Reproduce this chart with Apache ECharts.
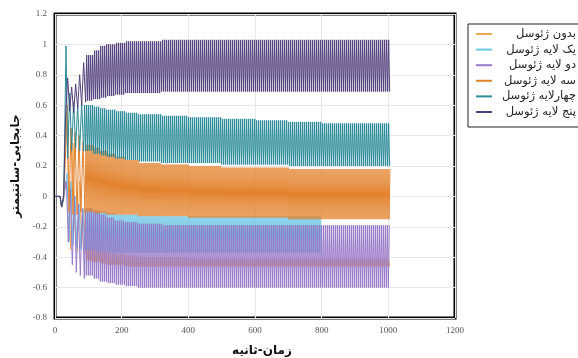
<!DOCTYPE html>
<html>
<head>
<meta charset="utf-8">
<script src="https://cdn.jsdelivr.net/npm/echarts@6/dist/echarts.min.js"></script>
<style>
  html, body { margin: 0; padding: 0; background: #fff; }
  #chart { width: 578px; height: 358px; }
</style>
</head>
<body>
<div id="chart"></div>
<script>
// legend order
const seriesNames = ['بدون ژئوسل', 'یک لایه ژئوسل', 'دو لایه ژئوسل', 'سه لایه ژئوسل', 'چهارلایه ژئوسل', 'پنج لایه ژئوسل'];
const seriesColors = ['#f2a550', '#6cc4e4', '#9878c8', '#e3822c', '#2a8b99', '#53407e'];

// time (s) where each envelope level starts; a level holds until the next one
const segmentStarts = [95, 115, 135, 155, 180, 210, 250, 320, 400, 500, 600, 700, 800];
const endTimes = [1005, 800, 1005, 1005, 1005, 1005];
const halfPeriod = 3; // seconds between a peak and the next trough

// start-up part, read point by point [t, displacement]
const startNone  = [[0, 0], [15, 0], [20, -0.07], [26, 0], [34, 0.55], [40, 0.1], [47, -0.35], [54, 0.35], [60, -0.2], [67, -0.36], [74, 0.1], [80, -0.33], [86, -0.1], [92, -0.38]];
const startOne   = [[0, 0], [15, 0], [20, -0.07], [26, 0], [36, 0.15], [42, -0.3], [48, 0.1], [54, -0.32], [60, 0.0], [66, -0.34], [72, -0.05], [78, -0.35], [84, -0.08], [90, -0.36]];
const startTwo   = [[0, 0], [15, 0], [20, -0.07], [26, 0], [34, 0.1], [40, -0.3], [46, 0.05], [52, -0.45], [58, 0.0], [64, -0.5], [70, -0.05], [76, -0.52], [82, -0.08], [88, -0.54]];
const startThree = [[0, 0], [15, 0], [20, -0.07], [26, 0], [32, 0.3], [37, 0.6], [42, -0.1], [48, 0.45], [54, -0.12], [60, 0.42], [66, -0.12], [72, 0.4], [78, -0.1], [84, 0.36], [90, -0.11]];
const startFour  = [[0, 0], [15, 0], [20, -0.07], [26, -0.02], [33, 0.99], [38, 0.25], [44, 0.68], [50, 0.3], [56, 0.62], [62, 0.32], [68, 0.6], [74, 0.3], [80, 0.62], [86, 0.3]];
const startFive  = [[0, 0], [15, 0], [20, -0.07], [26, 0.01], [32, 0.55], [38, 0.78], [44, 0.56], [50, 0.72], [56, 0.55], [62, 0.74], [68, 0.58], [74, 0.8], [80, 0.6], [86, 0.88], [92, 0.62]];

// peak / trough levels per segment
const peaksNone    = [-0.30, -0.33, -0.35, -0.37, -0.38, -0.39, -0.40, -0.40, -0.41, -0.41, -0.41, -0.41, -0.41];
const troughsNone  = [-0.42, -0.43, -0.44, -0.45, -0.45, -0.46, -0.46, -0.46, -0.46, -0.46, -0.46, -0.46, -0.46];
const peaksOne     = [-0.08, -0.09, -0.10, -0.11, -0.12, -0.12, -0.13, -0.13, -0.13, -0.13, -0.13, -0.13, -0.13];
const troughsOne   = [-0.35, -0.36, -0.36, -0.37, -0.37, -0.37, -0.37, -0.37, -0.37, -0.37, -0.37, -0.37, -0.37];
const peaksTwo     = [-0.08, -0.10, -0.12, -0.14, -0.16, -0.17, -0.18, -0.19, -0.19, -0.19, -0.19, -0.19, -0.19];
const troughsTwo   = [-0.52, -0.54, -0.56, -0.57, -0.58, -0.59, -0.60, -0.60, -0.60, -0.60, -0.60, -0.60, -0.60];
const peaksThree   = [0.34, 0.32, 0.30, 0.28, 0.26, 0.24, 0.22, 0.21, 0.20, 0.19, 0.19, 0.18, 0.18];
const troughsThree = [-0.10, -0.11, -0.11, -0.12, -0.12, -0.12, -0.13, -0.13, -0.14, -0.14, -0.14, -0.15, -0.15];
const peaksFour    = [0.60, 0.59, 0.58, 0.57, 0.56, 0.55, 0.54, 0.53, 0.52, 0.51, 0.50, 0.49, 0.48];
const troughsFour  = [0.30, 0.28, 0.27, 0.26, 0.25, 0.24, 0.23, 0.22, 0.22, 0.21, 0.21, 0.20, 0.20];
const peaksFive    = [0.93, 0.96, 0.99, 1.00, 1.01, 1.02, 1.02, 1.03, 1.03, 1.03, 1.03, 1.03, 1.03];
const troughsFive  = [0.63, 0.64, 0.65, 0.66, 0.67, 0.68, 0.68, 0.69, 0.69, 0.69, 0.69, 0.69, 0.69];

const starts  = [startNone, startOne, startTwo, startThree, startFour, startFive];
const peaks   = [peaksNone, peaksOne, peaksTwo, peaksThree, peaksFour, peaksFive];
const troughs = [troughsNone, troughsOne, troughsTwo, troughsThree, troughsFour, troughsFive];

// legend rows
const legendX = 576;
const legendTop = 24;
const legendRowH = 12;
const legendGap = 3.6;

function buildData(start, pk, tr, end) {
  const pts = start.slice();
  const last = start[start.length - 1];
  let t = last[0] + halfPeriod;
  let up = last[1] < (pk[0] + tr[0]) / 2;
  while (t <= end) {
    let seg = 0;
    while (seg + 1 < segmentStarts.length && t >= segmentStarts[seg + 1]) seg++;
    pts.push([t, up ? pk[seg] : tr[seg]]);
    up = !up;
    t += halfPeriod;
  }
  return pts;
}

const chart = echarts.init(document.getElementById('chart'), null, { renderer: 'canvas' });

const axisLabelStyle = { color: '#555', fontFamily: 'Liberation Serif', fontSize: 9 };
const legendFont = { fontSize: 11.5, fontFamily: 'DejaVu Sans' };

chart.setOption({
  animation: false,
  backgroundColor: '#fff',
  grid: {
    left: 55, right: 123, top: 14, bottom: 40,
    outerBoundsMode: 'none',
    show: true, borderColor: '#000', borderWidth: 3
  },
  legend: {
    orient: 'vertical',
    left: 468, top: legendTop,
    padding: [4, 4, 9, 8],
    itemGap: legendGap,
    itemWidth: 16, itemHeight: 2,
    icon: 'rect',
    borderColor: '#222', borderWidth: 1,
    data: seriesNames,
    // names are drawn right-aligned by the graphic texts below
    formatter: name => '{t|' + name + '}',
    textStyle: {
      rich: {
        t: { width: 95, height: legendRowH, lineHeight: legendRowH, ...legendFont, color: 'rgba(0,0,0,0)' }
      }
    }
  },
  graphic: seriesNames.map((name, i) => ({
    type: 'text',
    x: legendX,
    y: legendTop + 4 + legendRowH / 2 + i * (legendRowH + legendGap),
    silent: true,
    style: { text: name, align: 'right', verticalAlign: 'middle', ...legendFont, fill: '#222' }
  })),
  xAxis: {
    type: 'value', min: 0, max: 1200, interval: 200,
    axisLine: { show: false }, axisTick: { show: false },
    axisLabel: { ...axisLabelStyle, margin: 8, formatter: v => String(v) },
    splitLine: { show: true, lineStyle: { color: '#e8e8e8', width: 1 } },
    name: 'زمان-ثانیه', nameLocation: 'middle', nameGap: 27,
    nameTextStyle: { fontFamily: 'DejaVu Sans', fontWeight: 'bold', fontSize: 12, color: '#111', padding: [0, 0, 0, 14] }
  },
  yAxis: {
    type: 'value', min: -0.8, max: 1.2, interval: 0.2,
    axisLine: { show: false }, axisTick: { show: false },
    axisLabel: { ...axisLabelStyle, margin: 8, formatter: v => String(Math.round(v * 10) / 10) },
    splitLine: { show: true, lineStyle: { color: '#e8e8e8', width: 1 } },
    name: 'جابجایی-سانتیمتر', nameLocation: 'middle', nameGap: 32, nameRotate: 90,
    nameTextStyle: { fontFamily: 'DejaVu Sans', fontWeight: 'bold', fontSize: 12, color: '#111' }
  },
  series: seriesNames.map((name, i) => ({
    name,
    type: 'line',
    data: buildData(starts[i], peaks[i], troughs[i], endTimes[i]),
    showSymbol: false,
    sampling: null,
    color: seriesColors[i],
    lineStyle: { width: 1, color: seriesColors[i] }
  }))
});
</script>
</body>
</html>
